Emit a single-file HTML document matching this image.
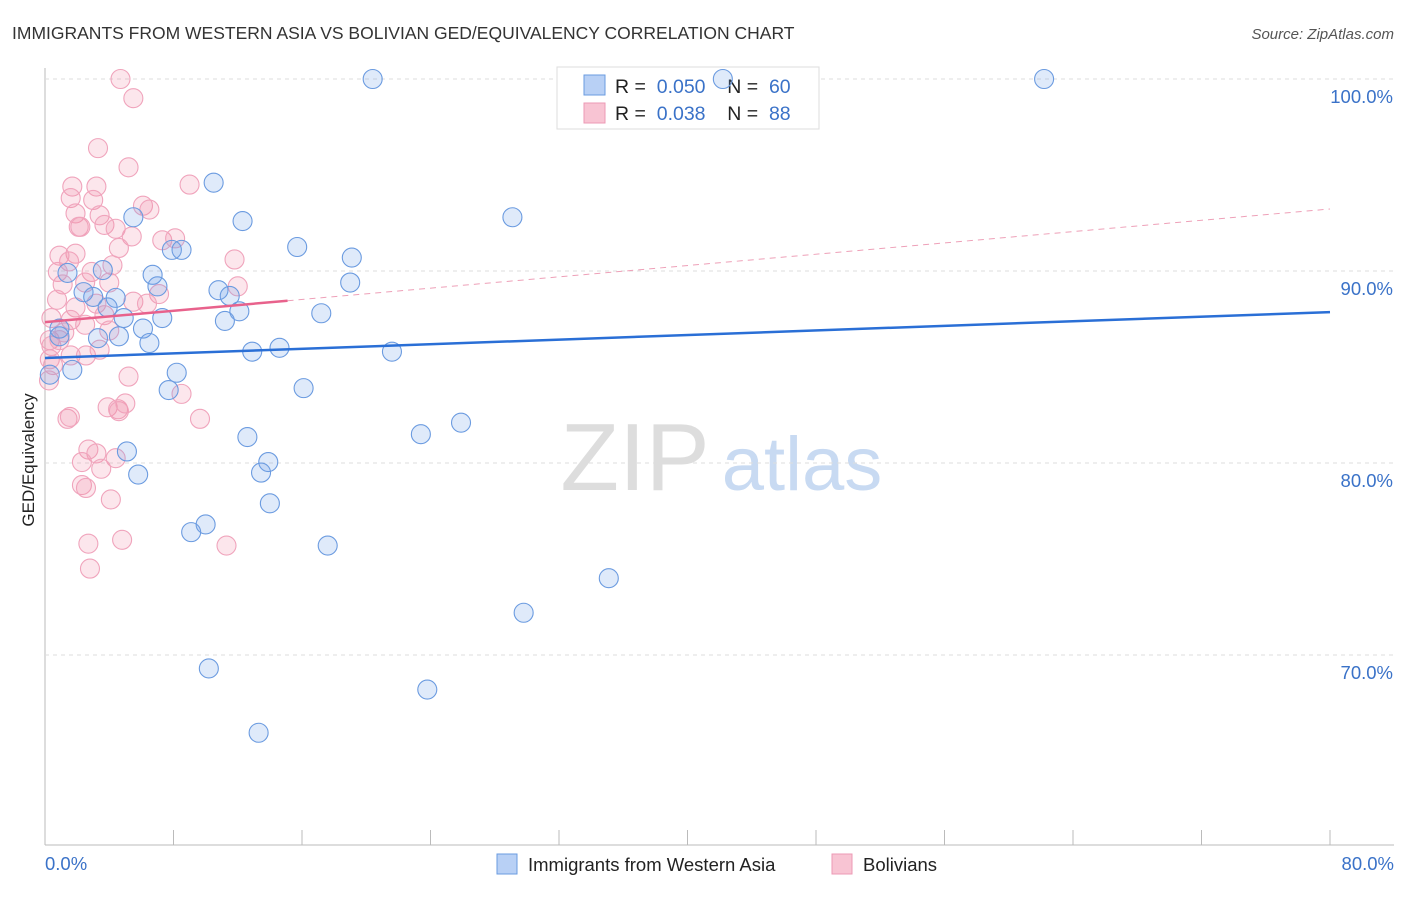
<!DOCTYPE html>
<html><head><meta charset="utf-8"><style>
body{margin:0;background:#fff;font-family:"Liberation Sans",sans-serif;}
svg text{font-family:"Liberation Sans",sans-serif;}
</style></head><body>
<svg id="c" width="1406" height="892" xmlns="http://www.w3.org/2000/svg">
<text x="12" y="39" font-size="17.5" fill="#333">IMMIGRANTS FROM WESTERN ASIA VS BOLIVIAN GED/EQUIVALENCY CORRELATION CHART</text>
<text x="1394" y="39" font-size="15" fill="#555" font-style="italic" text-anchor="end">Source: ZipAtlas.com</text>
<text x="34" y="460" font-size="17" fill="#222" transform="rotate(-90 34 460)" text-anchor="middle">GED/Equivalency</text>
<g>
<text x="635" y="490" font-size="96" fill="#ddd" font-family="Liberation Serif,serif" text-anchor="middle">ZIP</text>
<text x="802" y="490" font-size="76" fill="#c8daf2" text-anchor="middle">atlas</text></g>
<g id="grid"></g>
<g>
<rect x="557" y="67" width="262" height="62" fill="#fff" stroke="#ddd"/>
<rect x="584" y="75" width="21" height="20" fill="#b8d0f5" stroke="#6a9be0"/>
<rect x="584" y="103" width="21" height="20" fill="#f8c4d3" stroke="#ec9ab4"/>
<text x="615" y="93" font-size="19.5" fill="#222" xml:space="preserve">R =  <tspan fill="#3a72c8">0.050</tspan>    N =  <tspan fill="#3a72c8">60</tspan></text>
<text x="615" y="120" font-size="19.5" fill="#222" xml:space="preserve">R =  <tspan fill="#3a72c8">0.038</tspan>    N =  <tspan fill="#3a72c8">88</tspan></text>
</g>
<g id="marks"></g><g id="lines"></g>
<g>
<rect x="497" y="854" width="20" height="20" fill="#b8d0f5" stroke="#6a9be0"/>
<text x="528" y="871" font-size="18.5" fill="#222">Immigrants from Western Asia</text>
<rect x="832" y="854" width="20" height="20" fill="#f8c4d3" stroke="#ec9ab4"/>
<text x="863" y="871" font-size="18.5" fill="#222">Bolivians</text>
</g>
</svg>
<script>
const yTicks=[70,80,90,100];
const xTickLabels=["0.0%","80.0%"];
const blueX=[20.4,42.2,62.2,10.5,5.5,12.3,29.1,7.9,8.5,15.7,19.1,1.4,3.6,6.7,19.0,7.0,10.8,2.4,4.4,3.0,11.5,12.1,17.2,3.9,4.9,7.3,11.2,6.1,0.9,4.6,3.3,6.5,14.6,12.9,21.6,1.7,8.2,16.1,7.7,12.6,23.4,25.9,5.1,13.9,13.45,5.8,14.0,10.0,9.1,17.6,35.1,29.8,10.2,23.8,13.3,0.3,0.9];
const blueY=[100,100,100,94.6,92.8,92.6,92.8,91.1,91.1,91.25,90.7,89.9,90.05,89.8,89.4,89.2,89.0,88.9,88.6,88.65,88.7,87.9,87.8,88.1,87.55,87.55,87.4,87.0,86.6,86.6,86.5,86.25,86.0,85.8,85.8,84.85,84.7,83.9,83.8,81.35,81.5,82.1,80.6,80.05,79.5,79.4,77.9,76.8,76.4,75.7,74.0,72.2,69.3,68.2,65.95,84.6,87.0];
const pinkX=[4.7,5.5,3.3,5.2,1.7,3.2,1.6,3.0,6.1,6.5,9.0,1.9,3.4,2.1,2.2,3.7,4.4,5.4,7.3,8.1,4.6,1.9,0.9,1.5,0.8,2.9,4.2,11.8,4.0,1.1,0.75,2.5,12.0,7.1,5.5,6.35,1.9,3.2,3.7,1.6,2.5,4.0,0.4,0.3,0.4,0.9,1.2,1.6,2.55,3.4,0.3,0.5,0.25,5.2,8.5,3.9,4.55,4.6,5.0,9.65,1.4,1.55,2.7,3.2,2.3,4.4,3.5,2.3,2.55,4.1,11.3,2.7,4.8,2.8];
const pinkY=[100,99.0,96.4,95.4,94.4,94.4,93.8,93.7,93.4,93.2,94.5,93.0,92.9,92.3,92.3,92.4,92.2,91.8,91.6,91.7,91.2,90.9,90.8,90.5,89.95,89.95,90.3,90.6,89.4,89.3,88.5,89.4,89.2,88.8,88.4,88.3,88.1,88.3,87.7,87.45,87.2,86.9,87.55,86.4,86.1,86.4,86.8,85.6,85.6,85.9,85.4,85.1,84.3,84.5,83.6,82.9,82.8,82.7,83.1,82.3,82.3,82.4,80.7,80.5,80.05,80.25,79.7,78.85,78.7,78.1,75.7,75.8,76.0,74.5];
const blueTrend=[85.47,87.86];
const pinkTrend=[87.34,93.23];
const pinkSolidEnd=15.1;
const X=v=>45+v*(1285/80), Y=v=>79+(100-v)*19.2;
const NS="http://www.w3.org/2000/svg";
function mk(t,a,p){const e=document.createElementNS(NS,t);for(const k in a)e.setAttribute(k,a[k]);p.appendChild(e);return e;}
const g=document.getElementById('grid');
mk('line',{x1:45,y1:68,x2:45,y2:845,stroke:'#bbb'},g);
mk('line',{x1:45,y1:845,x2:1394,y2:845,stroke:'#bbb'},g);
yTicks.forEach(t=>{
 const l=mk('line',{x1:45,y1:Y(t),x2:1394,y2:Y(t),stroke:'#ddd','stroke-dasharray':'4,4'},g);
 
 
 const tx=mk('text',{x:1393,y:Y(t)+24,'font-size':18.5,fill:'#3a72c8','text-anchor':'end'},g);
 tx.textContent=t.toFixed(1)+'%';
 
 
});
for(let i=0;i<=10;i++){const x=X(i*8);const tk=mk('line',{x1:x,y1:830,x2:x,y2:845,stroke:'#bbb'},g);
 
 }
const xl0=mk('text',{x:45,y:870,'font-size':18.5,fill:'#3a72c8'},g);xl0.textContent=xTickLabels[0];


const xl1=mk('text',{x:1394,y:870,'font-size':18.5,fill:'#3a72c8','text-anchor':'end'},g);xl1.textContent=xTickLabels[1];


const m=document.getElementById('marks');
pinkX.forEach((v,i)=>{const c=mk('circle',{cx:X(v),cy:Y(pinkY[i]),r:9.5,fill:'rgba(240,140,170,0.22)',stroke:'#f0a4bc','stroke-width':1.1},m);
 
 });
blueX.forEach((v,i)=>{const c=mk('circle',{cx:X(v),cy:Y(blueY[i]),r:9.5,fill:'rgba(110,160,230,0.22)',stroke:'#6b9be0','stroke-width':1.1},m);
 
 });
const L=document.getElementById('lines');
const bl=mk('line',{x1:X(0),y1:Y(blueTrend[0]),x2:X(80),y2:Y(blueTrend[1]),stroke:'#2a6fd6','stroke-width':2.5},L);


const pm=pinkTrend[0]+(pinkTrend[1]-pinkTrend[0])*pinkSolidEnd/80;
const ps=mk('line',{x1:X(0),y1:Y(pinkTrend[0]),x2:X(pinkSolidEnd),y2:Y(pm),stroke:'#e8628c','stroke-width':2.5},L);


const pd=mk('line',{x1:X(pinkSolidEnd),y1:Y(pm),x2:X(80),y2:Y(pinkTrend[1]),stroke:'#eea0b8','stroke-width':1,'stroke-dasharray':'6,5'},L);


</script>
</body></html>
